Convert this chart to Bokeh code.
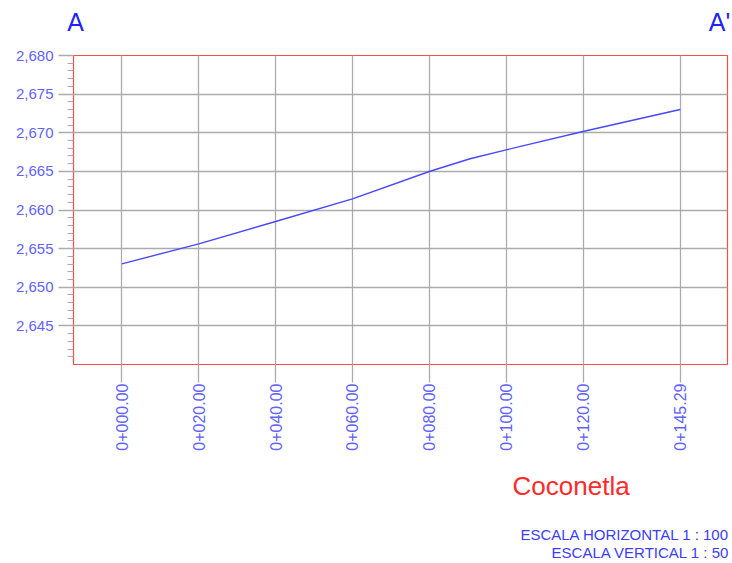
from bokeh.plotting import figure
from bokeh.models import (Range1d, FixedTicker, NumeralTickFormatter,
                          CustomJSTickFormatter, LinearAxis)
from bokeh.embed import file_html
from bokeh.resources import INLINE
import math

# Longitudinal profile A - A' (Coconetla)
stations = [0, 20, 40, 60, 80, 90.6, 100, 120, 145.29]
elevations = [2653.03, 2655.62, 2658.51, 2661.45, 2664.98, 2666.63,
              2667.79, 2670.16, 2673.01]

station_ticks = [0, 20, 40, 60, 80, 100, 120, 145.29]
elev_ticks = [2645, 2650, 2655, 2660, 2665, 2670, 2675, 2680]
elev_minor = [v for v in range(2641, 2680) if v % 5 != 0]

section_start = "A"
section_end = "A'"
place_name = "Coconetla"
scale_h = "ESCALA HORIZONTAL 1 : 100"
scale_v = "ESCALA VERTICAL 1 : 50"

FONT = "Liberation Sans"
GRID = "#ababab"
LABEL_BLUE = "#6262ff"

p = figure(width=732, height=563, output_backend="svg", toolbar_location=None,
           x_range=Range1d(-12.6, 157.6), y_range=Range1d(2640, 2680),
           min_border_left=73, min_border_right=5, min_border_top=55,
           min_border_bottom=199)
p.background_fill_color = "white"
p.border_fill_color = "white"
p.outline_line_color = "#ff4a4a"
p.outline_line_width = 1.2

# vertical axis: elevation
ya = p.yaxis[0]
ya.ticker = FixedTicker(ticks=elev_ticks, minor_ticks=elev_minor)
ya.formatter = NumeralTickFormatter(format="0,0")
ya.axis_line_color = None
ya.major_tick_in = 0
ya.major_tick_out = 15
ya.minor_tick_in = 0
ya.minor_tick_out = 6
ya.major_tick_line_color = GRID
ya.minor_tick_line_color = GRID
ya.major_tick_line_width = 1.3
ya.major_label_standoff = 5
ya.major_label_text_font = FONT
ya.major_label_text_font_size = "15px"
ya.major_label_text_color = LABEL_BLUE

# horizontal axis: chainage
xa = p.xaxis[0]
xa.ticker = FixedTicker(ticks=station_ticks)
xa.formatter = CustomJSTickFormatter(code="""
    const s = tick.toFixed(2).padStart(6, '0');
    return '0+' + s;
""")
xa.axis_line_color = None
xa.major_tick_in = 0
xa.major_tick_out = 18
xa.minor_tick_out = 0
xa.minor_tick_in = 0
xa.major_tick_line_color = GRID
xa.major_tick_line_width = 1.3
xa.major_label_orientation = math.pi / 2
xa.major_label_standoff = 1
xa.major_label_text_font = FONT
xa.major_label_text_font_size = "16px"
xa.major_label_text_color = LABEL_BLUE

p.xgrid.ticker = FixedTicker(ticks=station_ticks)
p.ygrid.ticker = FixedTicker(ticks=elev_ticks)
for g in (p.xgrid[0], p.ygrid[0]):
    g.grid_line_color = GRID
    g.grid_line_width = 1.3

p.line(stations, elevations, line_color="#4848ff", line_width=1.4)


def text_axis(side, ticks, code, size, color, standoff):
    # a bare axis used only to write text outside the plotting frame
    ax = LinearAxis(ticker=FixedTicker(ticks=ticks),
                    formatter=CustomJSTickFormatter(code=code))
    ax.axis_line_color = None
    ax.major_tick_line_color = None
    ax.minor_tick_line_color = None
    ax.major_tick_in = 0
    ax.major_tick_out = 0
    ax.minor_tick_in = 0
    ax.minor_tick_out = 0
    ax.major_label_standoff = standoff
    ax.major_label_text_font = FONT
    ax.major_label_text_font_size = size
    ax.major_label_text_color = color
    p.add_layout(ax, side)
    return ax


# section marks above the frame
text_axis("above", [-12.05, 155.5],
          f"return tick < 70 ? {section_start!r} : {section_end!r};",
          "25px", "#2222ff", 20)
# place name and scale notes below the chainage labels
text_axis("below", [116.9], f"return {place_name!r};",
          "26px", "#ff2a2a", 17)
text_axis("below", [130.9], f"return {scale_h!r};",
          "15px", "#3c3cff", 22)
text_axis("below", [135.0], f"return {scale_v!r};",
          "15px", "#3c3cff", -2)

open("out.html", "w").write(file_html(p, INLINE))
